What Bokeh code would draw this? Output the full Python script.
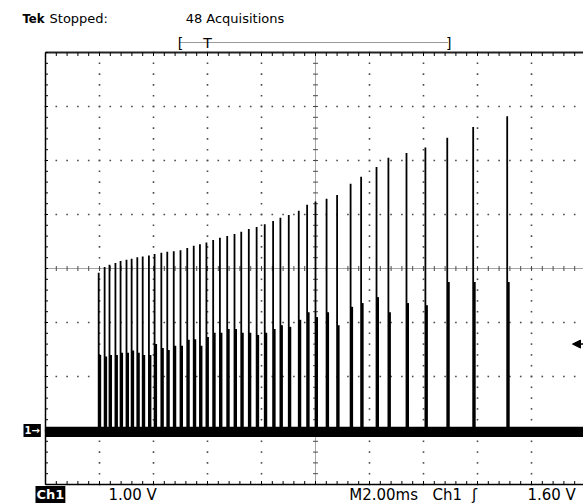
from bokeh.plotting import figure
from bokeh.models import Range1d, Label, Arrow, NormalHead, ColumnDataSource
from bokeh.embed import file_html
from bokeh.resources import INLINE

# ---------------- data read from the scope screen ----------------
# time of each pulse (ms from left edge of graticule), peak and step level (V above ground)
pulse_time_ms = [1.97, 2.19, 2.37, 2.59, 2.78, 3.00, 3.19, 3.40, 3.60, 3.83,
                 4.04, 4.29, 4.51, 4.75, 5.00, 5.25, 5.49, 5.72, 5.96, 6.21,
                 6.46, 6.73, 7.00, 7.25, 7.53, 7.82, 8.12, 8.43, 8.70, 9.01,
                 9.38, 9.69, 10.00, 10.41, 10.80, 11.30, 11.69, 12.26, 12.70, 13.37,
                 14.07, 14.88, 15.84, 17.10]
pulse_peak_v = [2.92, 3.03, 3.07, 3.10, 3.14, 3.16, 3.18, 3.21, 3.22, 3.24,
                3.27, 3.29, 3.31, 3.32, 3.34, 3.38, 3.42, 3.45, 3.48, 3.53,
                3.57, 3.60, 3.64, 3.68, 3.73, 3.77, 3.82, 3.88, 3.94, 3.99,
                4.07, 4.18, 4.24, 4.29, 4.36, 4.57, 4.70, 4.88, 5.05, 5.14,
                5.24, 5.42, 5.62, 5.82]
pulse_step_v = [1.40, 1.37, 1.40, 1.40, 1.44, 1.44, 1.48, 1.44, 1.40, 1.40,
                1.60, 1.53, 1.49, 1.57, 1.57, 1.68, 1.69, 1.57, 1.73, 1.81,
                1.81, 1.88, 1.88, 1.81, 1.81, 1.77, 1.81, 1.88, 1.95, 1.92,
                2.05, 2.19, 2.10, 2.19, 1.95, 2.29, 2.36, 2.47, 2.19, 2.36,
                2.32, 2.75, 2.75, 2.75]

# baseline noise band (V)
noise_hi_v = 0.07
noise_lo_v = -0.12

# scope settings
ms_per_div = 2.0
volts_per_div = 1.0
n_xdiv = 10
n_ydiv = 8
ground_div = 1          # ground one division above the bottom of the graticule
trigger_level_v = 1.60

# record-length bracket (ms)
record_start_ms = 5.0
record_trig_ms = 6.0
record_end_ms = 14.93

# readout texts
top_texts = ["Stopped:", "48 Acquisitions"]
top_x_ms = [0.15, 5.19]
bottom_texts = ["1.00 V", "M2.00ms", "Ch1", "\u0283", "1.60 V"]
bottom_x_ms = [2.33, 11.25, 14.33, 15.80, 17.85]

# ---------------- layout (screen geometry) ----------------
W, H = 583, 503
px_per_div = 54.0
left_px, ground_px = 45.0, 430.0          # graticule left edge and ground row (from top)
px_per_ms = px_per_div / ms_per_div
px_per_v = px_per_div / volts_per_div


def xd(px):
    return (px - left_px) / px_per_ms


def yd(py):
    return (ground_px - py) / px_per_v


p = figure(width=W, height=H, x_range=Range1d(xd(0), xd(W)), y_range=Range1d(yd(H), yd(0)),
           output_backend="svg", toolbar_location=None,
           x_axis_type=None, y_axis_type=None, min_border=0)
p.grid.visible = False
p.outline_line_color = None
p.background_fill_color = "white"
p.border_fill_color = "white"

y_lo = -ground_div * volts_per_div
y_hi = (n_ydiv - ground_div) * volts_per_div
x_lo = 0.0
x_hi = n_xdiv * ms_per_div
x_center = x_hi / 2
y_center = y_lo + n_ydiv / 2 * volts_per_div

x_major = [x_lo + i * ms_per_div for i in range(n_xdiv + 1)]
x_minor = [x_lo + i * ms_per_div / 5 for i in range(n_xdiv * 5 + 1)]
y_major = [y_lo + i * volts_per_div for i in range(n_ydiv + 1)]
y_minor = [y_lo + i * volts_per_div / 5 for i in range(n_ydiv * 5 + 1)]

GRID = "#4a4a4a"
# dotted graticule lines: a dot at every minor step on every major line
dx, dy = [], []
for xm in x_major[1:-1]:
    if xm == x_center:
        continue
    for ym in y_minor:
        dx.append(xm); dy.append(ym)
for ym in y_major[1:-1]:
    if ym == y_center:
        continue
    for xm in x_minor:
        dx.append(xm); dy.append(ym)
p.scatter(x=dx, y=dy, marker="square", size=1.6, fill_color=GRID, line_color=None)

# centre cross: dense dotted lines with small ticks
p.line(x=[x_center, x_center], y=[y_lo, y_hi], line_color=GRID, line_width=1, line_dash="1 1")
p.line(x=[x_lo, x_hi], y=[y_center, y_center], line_color=GRID, line_width=1, line_dash="1 1")
tk = 2.5
p.segment(x0=[x_center - tk / px_per_ms] * len(y_minor), y0=y_minor,
          x1=[x_center + tk / px_per_ms] * len(y_minor), y1=y_minor, line_color=GRID, line_width=1)
p.segment(x0=x_minor, y0=[y_center - tk / px_per_v] * len(x_minor),
          x1=x_minor, y1=[y_center + tk / px_per_v] * len(x_minor), line_color=GRID, line_width=1)

# border with inward ticks
p.line(x=[x_lo, x_lo], y=[y_lo, y_hi], line_color="black", line_width=1.5)
p.line(x=[x_lo, x_hi], y=[y_hi, y_hi], line_color="#222222", line_width=1.8)
p.line(x=[x_lo, x_hi], y=[y_lo, y_lo], line_color="black", line_width=1.5)
bt = 3.5
p.segment(x0=x_minor, y0=[y_hi] * len(x_minor), x1=x_minor, y1=[y_hi - bt / px_per_v] * len(x_minor),
          line_color="black", line_width=1)
p.segment(x0=x_minor, y0=[y_lo] * len(x_minor), x1=x_minor, y1=[y_lo + bt / px_per_v] * len(x_minor),
          line_color="black", line_width=1)
p.segment(x0=[x_lo] * len(y_minor), y0=y_minor, x1=[x_lo + 2.5 / px_per_ms] * len(y_minor), y1=y_minor,
          line_color="black", line_width=1)

# trace baseline (noise band)
p.varea(x=[x_lo, x_hi], y1=[noise_lo_v, noise_lo_v], y2=[noise_hi_v, noise_hi_v], fill_color="black")

# pulses
src = ColumnDataSource(dict(t=pulse_time_ms, peak=pulse_peak_v, step=pulse_step_v,
                            t2=[t + 1.3 / px_per_ms for t in pulse_time_ms],
                            zero=[0.0] * len(pulse_time_ms)))
p.segment(x0="t", y0="zero", x1="t", y1="peak", source=src, line_color="black", line_width=1.8)
p.segment(x0="t2", y0="zero", x1="t2", y1="step", source=src, line_color="black", line_width=2.4)

# ---------------- readouts ----------------
FONT = "DejaVu Sans"
p.add_layout(Label(x=xd(22), y=yd(18), text="Tek", text_font="DejaVu Sans Condensed",
                   text_font_style="bold", text_font_size="13px", text_color="black",
                   text_baseline="middle"))
for txt, xm in zip(top_texts, top_x_ms):
    p.add_layout(Label(x=xm, y=yd(18), text=txt, text_font=FONT, text_font_size="13px",
                       text_color="black", text_baseline="middle"))

# record bracket
p.line(x=[record_start_ms, record_end_ms], y=[yd(42), yd(42)], line_color="#333333",
       line_width=1, line_dash="1 1")
for txt, xm in [("[", record_start_ms), ("T", record_trig_ms), ("]", record_end_ms)]:
    p.add_layout(Label(x=xm, y=yd(42), text=txt, text_font=FONT, text_font_size="14px",
                       text_color="black", text_baseline="middle", text_align="center"))

# ground marker
p.add_layout(Label(x=xd(23), y=0.0, text="1\u2192", text_font=FONT, text_font_style="bold",
                   text_font_size="10px", text_color="white", text_baseline="middle",
                   background_fill_color="black", padding=1))

# trigger level arrow
p.add_layout(Arrow(end=NormalHead(size=8, fill_color="black", line_color="black"),
                   x_start=xd(W), x_end=xd(572), y_start=trigger_level_v, y_end=trigger_level_v,
                   line_color="black", line_width=1.5))

# bottom readouts
p.add_layout(Label(x=xd(35), y=yd(494), text="Ch1", text_font=FONT, text_font_style="bold",
                   text_font_size="13px", text_color="white", text_baseline="middle",
                   background_fill_color="black", padding=1))
for txt, xm in zip(bottom_texts, bottom_x_ms):
    p.add_layout(Label(x=xm, y=yd(494), text=txt, text_font=FONT, text_font_size="15px",
                       text_color="black", text_baseline="middle"))

open("out.html", "w").write(file_html(p, INLINE))
